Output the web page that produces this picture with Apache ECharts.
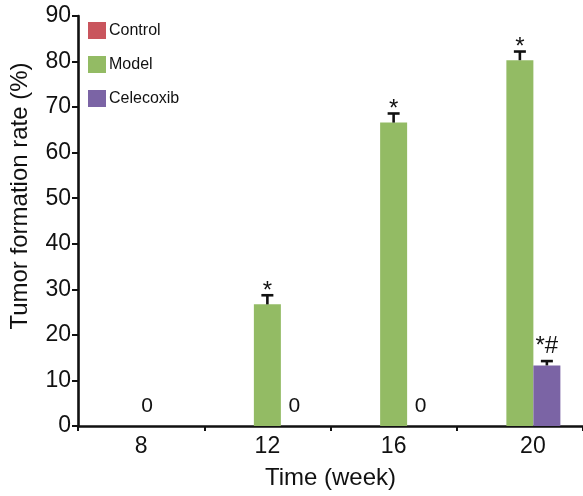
<!DOCTYPE html>
<html>
<head>
<meta charset="utf-8">
<script src="https://cdn.jsdelivr.net/npm/echarts@6/dist/echarts.min.js"></script>
<style>
html,body{margin:0;padding:0;background:#fff;}
#chart{width:583px;height:496px;}
</style>
</head>
<body>
<div id="chart"></div>
<script>
// ---- data ----
const categories = ['8', '12', '16', '20'];
const seriesNames = ['Control', 'Model', 'Celecoxib'];
const controlValues = [0, 0, 0, 0];
const modelValues = [0, 26.7, 66.6, 80.3];
const celecoxibValues = [0, 0, 0, 13.3];
const modelErrors = [0, 2.0, 2.0, 1.9];
const celecoxibErrors = [0, 0, 0, 0.95];
const modelMarks = ['', '*', '*', '*'];
const celecoxibMarks = ['', '', '', '*#'];
const modelValueLabels = ['0', '', '', ''];
const celecoxibValueLabels = ['', '0', '0', ''];
const yTicks = [0, 10, 20, 30, 40, 50, 60, 70, 80, 90];

// ---- styles ----
const FONT = '"Liberation Sans", Arial, Helvetica, sans-serif';
const BAR_W = 27;
const COLORS = { Control: '#c9555d', Model: '#93bb64', Celecoxib: '#7b64a5' };

function withLabels(values, labels, offsetX) {
  return values.map((v, i) => labels[i] ? {
    value: v,
    label: { show: true, position: 'top', distance: 9, formatter: labels[i],
      fontSize: 21, color: '#111', fontFamily: FONT, offset: [offsetX || 0, 0] }
  } : v);
}

function errorSeries(name, values, errors, marks, slot, markSize, markDy) {
  return {
    type: 'custom',
    name: name + ' error',
    silent: true,
    z: 5,
    encode: { x: 0, y: 1 },
    data: values.map((v, i) => [i, v, errors[i]]),
    renderItem: function (params, api) {
      const i = params.dataIndex;
      const v = api.value(1);
      const e = api.value(2);
      const mark = marks[i];
      if (!e && !mark) return null;
      const base = api.coord([api.value(0), v]);
      const top = api.coord([api.value(0), v + e]);
      const x = base[0] + slot * BAR_W;
      const children = [];
      if (e) {
        children.push({ type: 'line', shape: { x1: x, y1: base[1], x2: x, y2: top[1] },
          style: { stroke: '#111', lineWidth: 2.6 } });
        children.push({ type: 'line', shape: { x1: x - 6, y1: top[1], x2: x + 6, y2: top[1] },
          style: { stroke: '#111', lineWidth: 2.6 } });
      }
      if (mark) {
        children.push({ type: 'text', x: x, y: top[1] + markDy,
          style: { text: mark, fill: '#111', font: markSize + 'px ' + FONT,
            align: 'center', verticalAlign: 'bottom' } });
      }
      return { type: 'group', children: children };
    }
  };
}

const chart = echarts.init(document.getElementById('chart'), null, { renderer: 'canvas' });
chart.setOption({
  animation: false,
  backgroundColor: '#fff',
  textStyle: { fontFamily: FONT },
  grid: { left: 77, right: 0, top: 16, bottom: 70, containLabel: false },
  legend: {
    data: seriesNames,
    orient: 'vertical',
    left: 88, top: 22,
    padding: 0,
    itemWidth: 18, itemHeight: 17, itemGap: 17,
    icon: 'rect',
    textStyle: { fontSize: 16, color: '#111', fontFamily: FONT, padding: [0, 0, 0, -2] },
    selectedMode: false
  },
  xAxis: {
    type: 'category',
    data: categories,
    name: 'Time (week)',
    nameLocation: 'middle',
    nameGap: 40,
    nameTextStyle: { fontSize: 24, color: '#111', fontFamily: FONT },
    axisLine: { lineStyle: { color: '#111', width: 2.6 } },
    axisTick: { show: true, length: 5, lineStyle: { color: '#111', width: 2 } },
    axisLabel: {
      fontSize: 23, color: '#111', margin: 9, fontFamily: FONT,
      formatter: v => v === '20' ? '{s|' + v + '}' : v,
      rich: { s: { fontSize: 23, color: '#111', fontFamily: FONT, padding: [0, 0, 0, 26] } }
    },
    splitLine: { show: false }
  },
  yAxis: {
    type: 'value',
    min: yTicks[0], max: yTicks[yTicks.length - 1], interval: 10,
    name: 'Tumor formation rate (%)',
    nameLocation: 'middle',
    nameGap: 46,
    nameRotate: 90,
    nameTextStyle: { fontSize: 24, color: '#111', fontFamily: FONT, padding: [0, 0, 0, 50] },
    axisLine: { show: true, lineStyle: { color: '#111', width: 2.6 } },
    axisTick: { show: true, length: 6, lineStyle: { color: '#111', width: 2 } },
    axisLabel: { fontSize: 23, color: '#111', margin: 7, fontFamily: FONT },
    splitLine: { show: false }
  },
  series: [
    { name: 'Control', type: 'bar', data: controlValues, barWidth: BAR_W, barGap: '0%',
      itemStyle: { color: COLORS.Control } },
    { name: 'Model', type: 'bar', data: withLabels(modelValues, modelValueLabels, 6), barWidth: BAR_W, barGap: '0%',
      itemStyle: { color: COLORS.Model } },
    { name: 'Celecoxib', type: 'bar', data: withLabels(celecoxibValues, celecoxibValueLabels, 0), barWidth: BAR_W, barGap: '0%',
      itemStyle: { color: COLORS.Celecoxib } },
    errorSeries('Model', modelValues, modelErrors, modelMarks, 0, 24, 8),
    errorSeries('Celecoxib', celecoxibValues, celecoxibErrors, celecoxibMarks, 1, 24, -3)
  ]
});
</script>
</body>
</html>
